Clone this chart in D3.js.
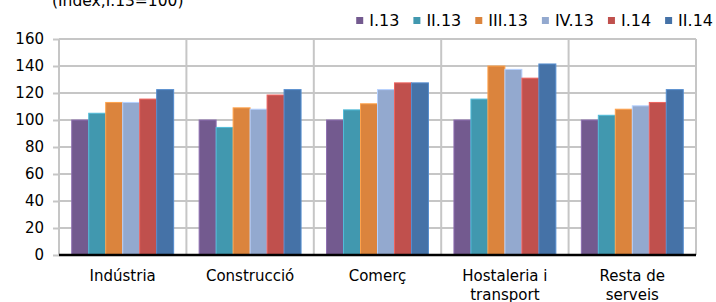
<!DOCTYPE html>
<html>
<head>
<meta charset="utf-8">
<script src="https://cdn.jsdelivr.net/npm/d3@7"></script>
<style>
  body { margin: 0; background: #fff; }
  text { font-family: "DejaVu Sans", Verdana, sans-serif; fill: #000; }
  .grid line { stroke: #c6c6c6; stroke-width: 2; }
  .y.axis path { display: none; }
  .y.axis line { stroke: #c6c6c6; stroke-width: 2; }
</style>
</head>
<body>
<div id="chart"></div>
<script>
// data
const categories = ["Indústria", "Construcció", "Comerç", "Hostaleria i\ntransport", "Resta de\nserveis"];
const seriesNames = ["I.13", "II.13", "III.13", "IV.13", "I.14", "II.14"];
const i13 = [100, 100, 100, 100, 100];
const ii13 = [105, 94.5, 107.5, 115.5, 103.5];
const iii13 = [113, 109, 112, 140, 108];
const iv13 = [113, 108, 122.5, 137.5, 110.5];
const i14 = [115.5, 118.5, 127.5, 131, 113];
const ii14 = [122.5, 122.5, 127.5, 141.5, 122.5];
const yTicks = [0, 20, 40, 60, 80, 100, 120, 140, 160];
const title = "(Index,I.13=100)";

const seriesValues = [i13, ii13, iii13, iv13, i14, ii14];
const colours = ["#735a8f", "#4198af", "#db843d", "#93a9cf", "#c0504d", "#4572a7"];

const width = 716;
const height = 302;
const margin = { top: 39, right: 20, bottom: 47, left: 59 };
const chartWidth = width - margin.left - margin.right;
const chartHeight = height - margin.top - margin.bottom;

const x0 = d3.scaleBand().domain(categories).range([0, chartWidth]);
const pad = x0.bandwidth() * 0.1;
const x1 = d3.scaleBand().domain(seriesNames).range([pad, x0.bandwidth() - pad]);
const yScale = d3.scaleLinear().domain([0, 160]).range([chartHeight, 0]);
const colourScale = d3.scaleOrdinal().domain(seriesNames).range(colours);

const svg = d3.select("#chart").append("svg")
  .attr("width", width)
  .attr("height", height);

const chart = svg.append("g")
  .attr("transform", `translate(${margin.left},${margin.top})`);

// vertical grid at category boundaries
const bounds = categories.map(c => x0(c)).concat([chartWidth]);
chart.append("g").attr("class", "grid")
  .selectAll("line").data(bounds).enter().append("line")
  .attr("x1", d => d).attr("x2", d => d)
  .attr("y1", 0).attr("y2", chartHeight);

// horizontal grid
chart.append("g").attr("class", "grid")
  .selectAll("line").data(yTicks).enter().append("line")
  .attr("x1", 0).attr("x2", chartWidth)
  .attr("y1", d => yScale(d)).attr("y2", d => yScale(d));

const yAxis = d3.axisLeft(yScale).tickValues(yTicks).tickSize(6).tickPadding(9);
chart.append("g").attr("class", "y axis").call(yAxis)
  .selectAll("text").style("font-size", "15px").style("font-family", "DejaVu Sans");

// bars
const rows = categories.map((c, i) => ({
  cat: c,
  vals: seriesNames.map((s, j) => ({ s: s, v: seriesValues[j][i] }))
}));

const groups = chart.selectAll(".group").data(rows).enter().append("g")
  .attr("class", "group")
  .attr("transform", d => `translate(${x0(d.cat)},0)`);

groups.selectAll("rect").data(d => d.vals).enter().append("rect")
  .attr("x", d => x1(d.s))
  .attr("y", d => yScale(d.v))
  .attr("width", x1.bandwidth())
  .attr("height", d => chartHeight - yScale(d.v))
  .style("fill", d => colourScale(d.s))
  .style("stroke", d => d3.color(colourScale(d.s)).brighter(0.6))
  .style("stroke-width", 1);

// x axis line
chart.append("line")
  .attr("x1", 0).attr("x2", chartWidth)
  .attr("y1", chartHeight).attr("y2", chartHeight)
  .style("stroke", "#000").style("stroke-width", 2.5);

// category labels
const catLabels = chart.selectAll(".cat").data(categories).enter().append("text")
  .attr("class", "cat")
  .attr("text-anchor", "middle")
  .attr("x", d => x0(d) + x0.bandwidth() / 2)
  .attr("y", chartHeight + 26)
  .style("font-size", "15px");
catLabels.selectAll("tspan").data(d => d.split("\n")).enter().append("tspan")
  .attr("x", function() { return d3.select(this.parentNode).attr("x"); })
  .attr("dy", (d, i) => i === 0 ? 0 : 19)
  .text(d => d);

// title (cut at the top edge, as in the original)
svg.append("text")
  .attr("x", 52).attr("y", 6)
  .style("font-size", "15.5px")
  .text(title);

// legend, laid out right to left ending at the right edge
const legend = svg.append("g").attr("class", "legend");
const items = legend.selectAll("g").data(seriesNames).enter().append("g");
items.append("rect")
  .attr("width", 7).attr("height", 7)
  .attr("y", 17)
  .style("fill", d => colourScale(d));
items.append("text")
  .attr("x", 13).attr("y", 26)
  .style("font-size", "16px")
  .text(d => d);

let cursor = 713;
const nodes = items.nodes();
for (let i = nodes.length - 1; i >= 0; i--) {
  const w = 13 + d3.select(nodes[i]).select("text").node().getComputedTextLength();
  cursor -= w;
  d3.select(nodes[i]).attr("transform", `translate(${cursor},0)`);
  cursor -= 14;
}
</script>
</body>
</html>
